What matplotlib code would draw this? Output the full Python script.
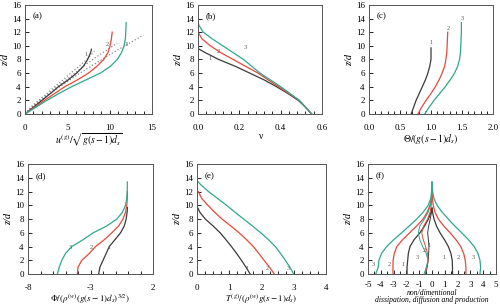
import numpy as np
import matplotlib
matplotlib.use("Agg")
import matplotlib.pyplot as plt
from matplotlib.ticker import MultipleLocator

plt.rcParams['font.family'] = ['Liberation Serif', 'DejaVu Serif']
plt.rcParams['mathtext.fontset'] = 'stix'
plt.rcParams['axes.unicode_minus'] = False

C1 = '#3a3a3a'   # case 1
C2 = '#e8473a'   # case 2
C3 = '#2fa88c'   # case 3

# ---------------- (a) streamwise velocity ----------------
a_z1 = [0, 1, 2, 3, 4, 5, 6, 7, 8, 9, 9.5]
a_u1 = [0, 1.0, 2.0, 3.0, 3.95, 5.1, 6.1, 6.9, 7.4, 7.75, 7.85]
a_z2 = [0, 1, 2, 3, 4, 5, 6, 7, 8, 9, 10, 11, 12]
a_u2 = [0, 1.15, 2.3, 3.5, 4.7, 6.2, 7.5, 8.5, 9.3, 9.8, 10.05, 10.2, 10.3]
a_z3 = [0, 1, 2, 3, 4, 5, 6, 7, 8, 9, 10, 11, 12, 13.4]
a_u3 = [0, 1.3, 2.6, 4.0, 5.5, 7.2, 8.9, 10.1, 10.9, 11.4, 11.7, 11.85, 11.9, 11.95]
a_dz1 = [0, 1, 2, 3, 4, 5, 6, 7, 8, 9.2]
a_du1 = [0, 0.7, 1.6, 2.6, 3.5, 4.5, 5.4, 6.4, 7.3, 8.2]
a_dz2 = [0, 1, 2, 3, 4, 5, 6, 7, 8, 9, 10.4]
a_du2 = [0, 0.8, 1.8, 2.8, 3.8, 4.9, 5.9, 6.9, 8.0, 9.2, 10.9]
a_dz3 = [0, 1, 2, 3, 4, 5, 6, 7, 8, 9, 10, 11.6]
a_du3 = [0, 0.9, 1.9, 3.0, 4.1, 5.3, 6.5, 7.8, 9.1, 10.4, 11.8, 14.0]

# ---------------- (b) concentration ----------------
b_z1 = [0, 0.5, 1, 2, 3, 4, 5, 6, 7, 8, 9, 9.6]
b_v1 = [0.55, 0.535, 0.52, 0.485, 0.435, 0.38, 0.32, 0.25, 0.18, 0.1, 0.035, 0.0]
b_z2 = [0, 0.5, 1, 2, 3, 4, 5, 6, 7, 8, 9, 10, 11, 12]
b_v2 = [0.55, 0.535, 0.52, 0.49, 0.44, 0.39, 0.34, 0.29, 0.23, 0.17, 0.11, 0.06, 0.02, 0.0]
b_z3 = [0, 0.5, 1, 2, 3, 4, 5, 6, 7, 8, 9, 10, 11, 12, 13, 13.4]
b_v3 = [0.55, 0.535, 0.52, 0.49, 0.445, 0.4, 0.35, 0.3, 0.26, 0.22, 0.17, 0.12, 0.07, 0.025, 0.005, 0.0]

# ---------------- (c) granular temperature ----------------
c_z1 = [0, 1, 2, 3, 4, 5, 6, 7, 8, 9, 9.7]
c_t1 = [0.68, 0.72, 0.76, 0.81, 0.86, 0.91, 0.95, 0.98, 1.0, 1.0, 1.0]
c_z2 = [0, 1, 2, 3, 4, 5, 6, 7, 8, 9, 10, 11, 12]
c_t2 = [0.79, 0.85, 0.92, 1.0, 1.07, 1.13, 1.18, 1.22, 1.24, 1.255, 1.26, 1.265, 1.27]
c_z3 = [0, 1, 2, 3, 4, 5, 6, 7, 8, 9, 10, 11, 12, 13.4]
c_t3 = [0.9, 0.97, 1.05, 1.14, 1.23, 1.31, 1.38, 1.43, 1.46, 1.475, 1.48, 1.485, 1.49, 1.49]

# ---------------- (d) flux ----------------
d_z1 = [0, 1, 2, 3, 4, 5, 6, 7, 8, 9, 9.7]
d_p1 = [-2.35, -2.25, -2.0, -1.75, -1.5, -1.05, -0.6, -0.3, -0.15, -0.07, -0.05]
d_z2 = [0, 1, 2, 3, 4, 5, 6, 7, 8, 9, 10, 11, 12]
d_p2 = [-4.05, -4.0, -3.7, -3.1, -2.6, -1.9, -1.3, -0.75, -0.4, -0.2, -0.1, -0.06, -0.05]
d_z3 = [0, 1, 2, 3, 4, 5, 6, 7, 8, 9, 10, 11, 12, 13.4]
d_p3 = [-5.65, -5.5, -5.3, -5.0, -4.5, -3.6, -2.8, -1.7, -0.9, -0.45, -0.2, -0.1, -0.06, -0.05]

# ---------------- (e) stress ----------------
e_z1 = [0, 1, 2, 3, 4, 5, 6, 7, 8, 9, 9.6]
e_t1 = [1.65, 1.52, 1.38, 1.23, 1.07, 0.9, 0.72, 0.5, 0.26, 0.09, 0.03]
e_z2 = [0, 1, 2, 3, 4, 5, 6, 7, 8, 9, 10, 11, 12]
e_t2 = [2.4, 2.25, 2.08, 1.92, 1.75, 1.54, 1.31, 1.05, 0.78, 0.55, 0.34, 0.15, 0.04]
e_z3 = [0, 1, 2, 3, 4, 5, 6, 7, 8, 9, 10, 11, 12, 13, 13.4]
e_t3 = [3.0, 2.88, 2.74, 2.59, 2.43, 2.22, 1.98, 1.72, 1.45, 1.18, 0.92, 0.64, 0.36, 0.12, 0.04]

# ---------------- (f) energy budget ----------------
f_z1 = [0, 1, 2, 3, 4, 5, 6, 7, 8, 9, 9.6]
f_prod1 = [1.6, 1.6, 1.58, 1.48, 1.28, 0.98, 0.63, 0.35, 0.16, 0.04, 0.0]
f_diss1 = [-1.95, -1.95, -1.9, -1.85, -1.72, -1.4, -0.95, -0.58, -0.29, -0.08, 0.0]
f_diff1 = [-0.5, -0.38, -0.3, -0.26, -0.24, -0.28, -0.34, -0.26, -0.14, -0.04, 0.0]
f_z2 = [0, 1, 2, 3, 4, 5, 6, 7, 8, 9, 10, 11, 12]
f_prod2 = [2.65, 2.65, 2.6, 2.48, 2.25, 1.88, 1.42, 0.92, 0.5, 0.24, 0.1, 0.03, 0.0]
f_diss2 = [-3.05, -3.05, -3.04, -2.95, -2.75, -2.3, -1.75, -1.2, -0.7, -0.38, -0.16, -0.05, 0.0]
f_diff2 = [-0.55, -0.42, -0.3, -0.35, -0.5, -0.68, -0.8, -0.65, -0.35, -0.15, -0.06, -0.02, 0.0]
f_z3 = [0, 1, 2, 3, 4, 5, 6, 7, 8, 9, 10, 11, 12, 13, 13.4]
f_prod3 = [3.75, 3.8, 3.75, 3.6, 3.3, 2.85, 2.33, 1.78, 1.28, 0.8, 0.4, 0.15, 0.05, 0.01, 0.0]
f_diss3 = [-4.4, -4.2, -4.15, -3.95, -3.55, -3.0, -2.38, -1.78, -1.2, -0.7, -0.3, -0.1, -0.03, -0.01, 0.0]
f_diff3 = [-0.62, -0.45, -0.32, -0.45, -0.73, -0.95, -1.07, -0.95, -0.6, -0.3, -0.12, -0.04, -0.01, 0.0, 0.0]

FS = 6.5


def set_ax(ax, xlim, xticks, xminor, xlabel, tag, xfs=FS + 0.5):
    ax.set_xlim(*xlim)
    ax.set_ylim(0, 16)
    ax.set_xticks(xticks)
    ax.set_yticks(np.arange(0, 17, 2))
    ax.xaxis.set_minor_locator(MultipleLocator(xminor))
    ax.tick_params(which='both', direction='in', labelsize=FS, width=0.6)
    ax.tick_params(which='major', length=3)
    ax.tick_params(which='minor', length=2)
    ax.tick_params(axis='x', pad=7)
    ax.tick_params(axis='y', pad=3)
    for s in ax.spines.values():
        s.set_linewidth(0.7)
        s.set_color('#555555')
    ax.set_ylabel("z/d", fontsize=FS + 1, style='italic', labelpad=1)
    ax.set_xlabel(xlabel, fontsize=xfs, labelpad=0)
    ax.text(0.06, 0.93, tag, transform=ax.transAxes, fontsize=FS, va='top')


def lab(ax, x, y, s):
    ax.text(x, y, s, fontsize=4.5, ha='center', va='center', color='#555555')


fig = plt.figure(figsize=(5.0, 3.08), dpi=100)

# (a)
ax = fig.add_axes([0.05, 0.630, 0.254, 0.354])
for du, dz in [(a_du1, a_dz1), (a_du2, a_dz2), (a_du3, a_dz3)]:
    ax.plot(du, dz, ':', color='#888888', lw=0.9)
for u, z, c in [(a_u1, a_z1, C1), (a_u2, a_z2, C2), (a_u3, a_z3, C3)]:
    ax.plot(u, z, color=c, lw=0.9)
lab(ax, 7.2, 8.7, "1"); lab(ax, 9.7, 10.2, "2"); lab(ax, 12.0, 10.2, "3")
set_ax(ax, (0, 15), [0, 5, 10, 15], 1, r"$u^{(g)}/\sqrt{g(s-1)d_s}$", "(a)")

# (b)
ax = fig.add_axes([0.396, 0.630, 0.248, 0.354])
for v, z, c in [(b_v1, b_z1, C1), (b_v2, b_z2, C2), (b_v3, b_z3, C3)]:
    ax.plot(v, z, color=c, lw=0.9)
lab(ax, 0.06, 8.2, "1"); lab(ax, 0.1, 9.2, "2"); lab(ax, 0.23, 9.8, "3")
set_ax(ax, (0, 0.6), [0, 0.2, 0.4, 0.6], 0.04, "ν", "(b)")

# (c)
ax = fig.add_axes([0.738, 0.630, 0.248, 0.354])
for t, z, c in [(c_t1, c_z1, C1), (c_t2, c_z2, C2), (c_t3, c_z3, C3)]:
    ax.plot(t, z, color=c, lw=0.9)
lab(ax, 1.0, 10.5, "1"); lab(ax, 1.28, 12.6, "2"); lab(ax, 1.5, 14.0, "3")
set_ax(ax, (0, 2), [0, 0.5, 1, 1.5, 2], 0.1, r"$\Theta/(g(s-1)d_s)$", "(c)")

# (d)
ax = fig.add_axes([0.056, 0.110, 0.25, 0.357])
for p, z, c in [(d_p1, d_z1, C1), (d_p2, d_z2, C2), (d_p3, d_z3, C3)]:
    ax.plot(p, z, color=c, lw=0.9)
lab(ax, -1.5, 3.9, "1"); lab(ax, -2.9, 3.9, "2"); lab(ax, -4.65, 3.9, "3")
set_ax(ax, (-8, 2), [-8, -3, 2], 1, r"$\Phi/(\rho^{(w)}(g(s-1)d_s)^{3/2})$", "(d)", FS)

# (e)
ax = fig.add_axes([0.394, 0.110, 0.258, 0.357])
for t, z, c in [(e_t1, e_z1, C1), (e_t2, e_z2, C2), (e_t3, e_z3, C3)]:
    ax.plot(t, z, color=c, lw=0.9)
lab(ax, 1.54, 0.8, "1"); lab(ax, 2.17, 0.8, "2"); lab(ax, 2.84, 0.8, "3")
set_ax(ax, (0, 4), [0, 1, 2, 3, 4], 0.25, r"$T^{(g)}/(\rho^{(w)}g(s-1)d_s)$", "(e)", FS)

# (f)
ax = fig.add_axes([0.736, 0.110, 0.256, 0.357])
for z, pr, di, df, c in [(f_z1, f_prod1, f_diss1, f_diff1, C1),
                         (f_z2, f_prod2, f_diss2, f_diff2, C2),
                         (f_z3, f_prod3, f_diss3, f_diff3, C3)]:
    ax.plot(pr, z, color=c, lw=0.9)
    ax.plot(di, z, color=c, lw=0.9)
    ax.plot(df, z, color=c, lw=0.7)
lab(ax, -4.55, 1.4, "3"); lab(ax, -3.3, 1.4, "2"); lab(ax, -2.3, 1.4, "1")
lab(ax, 0.94, 2.4, "1"); lab(ax, 2.07, 2.4, "2"); lab(ax, 3.25, 2.4, "3")
lab(ax, -1.13, 2.4, "3"); lab(ax, -0.6, 3.5, "2"); lab(ax, -0.26, 4.2, "1")
set_ax(ax, (-5, 5), np.arange(-5, 6, 1), 0.5,
       "non/dimentional\ndissipation, diffusion and production", "(f)", 5.5)
ax.xaxis.label.set_style('italic')
ax.xaxis.label.set_linespacing(0.9)
ax.tick_params(axis='x', pad=5)

fig.savefig("out.png", dpi=100)
